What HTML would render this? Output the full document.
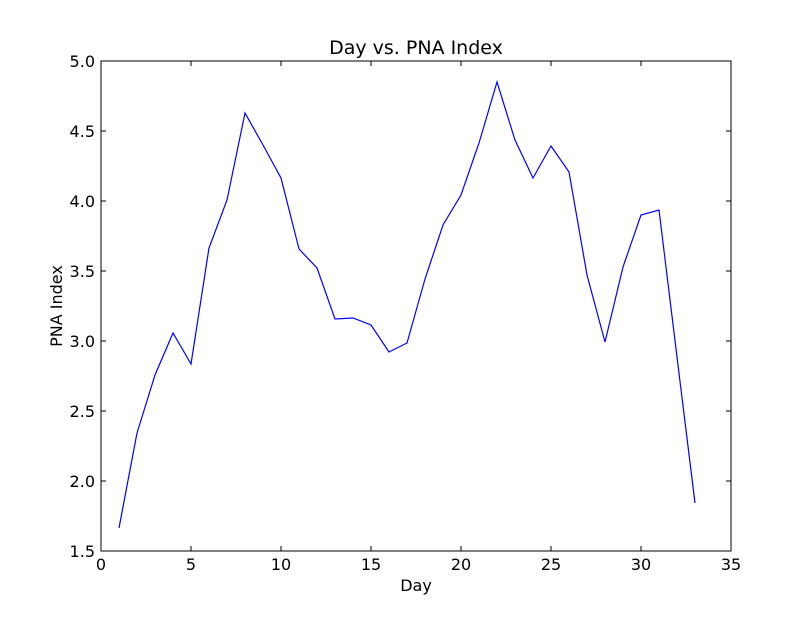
<!DOCTYPE html>
<html><head><meta charset="utf-8"><style>
html,body{margin:0;padding:0;background:#fff;}
svg text{font-family:"DejaVu Sans","Liberation Sans",sans-serif;font-size:16px;fill:#000;}
</style></head><body>
<svg width="812" height="612" xmlns="http://www.w3.org/2000/svg">
<rect width="812" height="612" fill="#fff"/>
<polyline fill="none" stroke="#0000ff" stroke-width="1.2" points="119,528 137,433 155,375 173,333 191,364 209,248 227,200 245,113 263,145 281,178 299,249 317,268 335,319 353,318 371,325 389,352 407,343 425,279 443,225 461,195 479,143 497,82 515,140 533,178 551,146 569,172 587,275 605,342 623,267 641,215 659,210 677,357 695,503"/>
<rect x="101" y="61" width="630" height="490" fill="none" stroke="#000" stroke-width="1"/>
<g stroke="#000" stroke-width="1">
<path d="M101,551v-5M101,61v5M191,551v-5M191,61v5M281,551v-5M281,61v5M371,551v-5M371,61v5M461,551v-5M461,61v5M551,551v-5M551,61v5M641,551v-5M641,61v5M731,551v-5M731,61v5"/>
<path d="M101,551h5M731,551h-5M101,481h5M731,481h-5M101,411h5M731,411h-5M101,341h5M731,341h-5M101,271h5M731,271h-5M101,201h5M731,201h-5M101,131h5M731,131h-5M101,61h5M731,61h-5"/>
</g>
<g text-anchor="middle">
<text x="101" y="570">0</text><text x="191" y="570">5</text><text x="281" y="570">10</text><text x="371" y="570">15</text><text x="461" y="570">20</text><text x="551" y="570">25</text><text x="641" y="570">30</text><text x="731" y="570">35</text>
<text x="416" y="591">Day</text>
<text x="416" y="54" style="font-size:19px">Day vs. PNA Index</text>
</g>
<g text-anchor="end">
<text x="95" y="557">1.5</text><text x="95" y="487">2.0</text><text x="95" y="417">2.5</text><text x="95" y="347">3.0</text><text x="95" y="277">3.5</text><text x="95" y="207">4.0</text><text x="95" y="137">4.5</text><text x="95" y="67">5.0</text>
</g>
<text x="62" y="306" text-anchor="middle" transform="rotate(-90 62 306)">PNA Index</text>
</svg>
</body></html>
